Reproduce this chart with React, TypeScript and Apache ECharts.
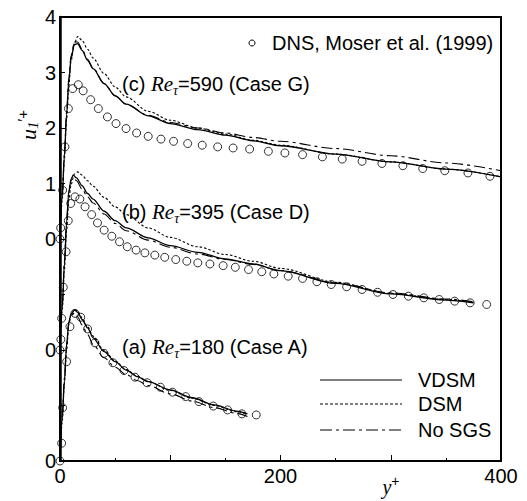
import React, { useEffect, useRef } from 'react';
import * as echarts from 'echarts';

// ---------- data (y+, u1'+) ----------
// Case A, Re_tau = 180 (plotted with offset -4)
const dnsA: number[][] = [[0,0],[1.5,0.32],[2.4,0.96],[6,1.79],[9,2.42],[13.6,2.66],[18.8,2.59],[25,2.38],[31.7,2.13],[40,1.94],[48,1.77],[58,1.63],[68,1.51],[79,1.41],[91,1.33],[102,1.24],[114,1.16],[126,1.07],[139,0.99],[152,0.92],[165,0.85],[178,0.83]];
const vdsmA: number[][] = [[0,0],[2,0.75],[4,1.45],[6,2.1],[8,2.5],[10,2.65],[13,2.72],[16,2.68],[20,2.55],[25,2.4],[30,2.22],[40,1.97],[50,1.79],[60,1.64],[70,1.52],[80,1.43],[100,1.28],[120,1.14],[140,1.01],[160,0.9],[170,0.85]];
const dsmA: number[][] = [[0,0],[2,0.7],[4,1.4],[6,2.0],[8,2.45],[10,2.63],[13,2.72],[16,2.7],[20,2.58],[25,2.42],[30,2.25],[40,1.99],[50,1.8],[60,1.65],[70,1.53],[80,1.43],[100,1.27],[120,1.13],[140,1.0],[160,0.89],[170,0.84]];
const nosgsA: number[][] = [[0,0],[2,0.8],[4,1.5],[6,2.1],[8,2.5],[10,2.62],[13,2.66],[16,2.6],[20,2.45],[25,2.28],[30,2.1],[40,1.86],[50,1.69],[60,1.56],[70,1.45],[80,1.36],[100,1.21],[120,1.08],[140,0.96],[160,0.86],[170,0.8]];

// Case D, Re_tau = 395 (plotted with offset -2)
const dnsB: number[][] = [[0,0],[0.8,0.19],[1.5,0.57],[3,1.13],[5.5,1.77],[7.5,2.33],[9.7,2.64],[13.6,2.76],[18,2.72],[22.7,2.58],[28.7,2.44],[34,2.29],[40,2.16],[47,2.05],[54,1.95],[61,1.86],[69,1.8],[77,1.75],[86,1.71],[95,1.67],[105,1.63],[115,1.6],[125,1.57],[136,1.55],[148,1.52],[159,1.49],[171,1.45],[183,1.41],[194,1.37],[207,1.33],[220,1.29],[233,1.23],[246,1.18],[260,1.14],[274,1.09],[288,1.04],[302,1.0],[316,0.97],[330,0.94],[344,0.91],[358,0.88],[372,0.85],[387,0.82]];
const vdsmB: number[][] = [[0,0],[2,0.75],[4,1.55],[6,2.3],[8,2.85],[10,3.08],[12,3.15],[15,3.1],[20,2.96],[25,2.82],[30,2.72],[40,2.5],[50,2.33],[60,2.2],[80,2.02],[100,1.88],[125,1.76],[150,1.64],[175,1.55],[200,1.43],[250,1.2],[300,1.01],[350,0.9],[375,0.85]];
const dsmB: number[][] = [[0,0],[2,0.7],[4,1.45],[6,2.15],[8,2.7],[10,2.98],[13,3.17],[16,3.21],[20,3.15],[25,3.05],[30,2.95],[40,2.75],[50,2.58],[60,2.44],[80,2.2],[100,2.03],[125,1.86],[150,1.72],[175,1.6],[200,1.47],[250,1.22],[300,1.02],[350,0.91],[375,0.86]];
const nosgsB: number[][] = [[0,0],[2,0.8],[4,1.6],[6,2.35],[8,2.85],[10,3.05],[12,3.1],[15,3.05],[20,2.9],[25,2.76],[30,2.65],[40,2.45],[50,2.28],[60,2.15],[80,1.98],[100,1.85],[125,1.73],[150,1.63],[175,1.54],[200,1.43],[250,1.21],[300,1.03],[350,0.92],[375,0.87]];

// Case G, Re_tau = 590 (plotted with offset 0)
const dnsC: number[][] = [[0,0],[0.6,0.2],[2.4,0.88],[4.5,1.66],[7.6,2.35],[11.5,2.71],[16.6,2.78],[21,2.67],[27.8,2.51],[34.8,2.35],[43,2.2],[50.8,2.08],[59.9,1.99],[69.5,1.91],[80,1.85],[91.6,1.8],[103,1.76],[115.8,1.72],[129,1.69],[143,1.66],[157,1.64],[172,1.62],[189,1.58],[204,1.55],[220,1.52],[238,1.48],[256,1.44],[274,1.4],[292,1.36],[311,1.32],[329,1.27],[349,1.23],[370,1.19],[390,1.13]];
const vdsmC: number[][] = [[0,0],[2,0.75],[4,1.5],[6,2.25],[8,2.85],[10,3.25],[13,3.5],[16,3.52],[20,3.4],[25,3.22],[30,3.07],[40,2.8],[50,2.58],[60,2.43],[80,2.22],[100,2.08],[125,1.97],[150,1.87],[175,1.77],[200,1.68],[250,1.53],[300,1.39],[350,1.26],[400,1.12]];
const dsmC: number[][] = [[0,0],[2,0.7],[4,1.45],[6,2.15],[8,2.75],[10,3.2],[13,3.52],[16,3.65],[20,3.58],[25,3.42],[30,3.26],[40,2.98],[50,2.74],[60,2.56],[80,2.3],[100,2.14],[125,2.0],[150,1.89],[175,1.78],[200,1.69],[250,1.53],[300,1.39],[350,1.26],[400,1.12]];
const nosgsC: number[][] = [[0,0],[2,0.8],[4,1.55],[6,2.3],[8,2.9],[10,3.3],[13,3.55],[16,3.55],[20,3.42],[25,3.24],[30,3.08],[40,2.8],[50,2.58],[60,2.43],[80,2.23],[100,2.1],[125,2.0],[150,1.91],[175,1.83],[200,1.76],[250,1.63],[300,1.5],[350,1.37],[400,1.23]];

const offsets = { A: -4, B: -2, C: 0 };
const xTickLabels = [0, 200, 400];
const yZeroLabels = [-4, -2];

const SANS = '"Liberation Sans", Arial, Helvetica, sans-serif';
const SERIF = '"Liberation Serif", "Times New Roman", serif';

const shift = (d: number[][], off: number) => d.map(([x, y]) => [x, y + off]);

const DOT = [2.5, 2];
const DASHDOT = [11, 4, 3, 4];

function lineSeries(data: number[][], off: number, type: any, width: number) {
  return {
    type: 'line',
    data: shift(data, off),
    symbol: 'none',
    showSymbol: false,
    smooth: 0.3,
    smoothMonotone: 'x',
    lineStyle: { color: '#000', width, type },
    z: 2,
    silent: true,
  };
}
function dnsSeries(data: number[][], off: number) {
  return {
    type: 'scatter',
    data: shift(data, off),
    symbol: 'circle',
    symbolSize: 8,
    itemStyle: { color: 'rgba(0,0,0,0)', borderColor: '#000', borderWidth: 1 },
    z: 3,
    silent: true,
  };
}

const labelRich = {
  n: { fontFamily: SANS, fontSize: 20, fill: '#000' },
  it: { fontFamily: SERIF, fontStyle: 'italic', fontSize: 21, fill: '#000' },
  sub: { fontFamily: SERIF, fontStyle: 'italic', fontSize: 14, fill: '#000', padding: [12, 0, 0, 0] },
};
const caseLabel = (tag: string, re: number, name: string, y: number) => ({
  type: 'text',
  x: 122,
  y,
  style: {
    text: `{n|${tag} }{it|Re}{sub|τ}{n|=${re} (${name})}`,
    rich: labelRich,
    verticalAlign: 'middle',
    align: 'left',
    fill: '#000',
  },
});

const legendEntry = (label: string, y: number, dash: any) => [
  {
    type: 'line',
    shape: { x1: 320, y1: y, x2: 402, y2: y },
    style: { stroke: '#000', lineWidth: 1, lineDash: dash },
  },
  {
    type: 'text',
    x: 418,
    y,
    style: { text: label, fontFamily: SANS, fontSize: 20, fill: '#000', verticalAlign: 'middle' },
  },
];

export default function App() {
  const ref = useRef<HTMLDivElement>(null);
  useEffect(() => {
    const chart = echarts.init(ref.current!, null, { renderer: 'svg' });
    const option: any = {
      animation: false,
      backgroundColor: '#fff',
      grid: { left: 60, top: 17, width: 441, height: 444, show: true, borderColor: '#000', borderWidth: 2, backgroundColor: 'transparent' },
      xAxis: {
        type: 'value',
        min: 0,
        max: 400,
        interval: 100,
        axisLine: { show: true, onZero: false, lineStyle: { color: '#000', width: 2 } },
        axisTick: { show: true, inside: true, length: 6, lineStyle: { color: '#000', width: 1 } },
        minorTick: { show: true, splitNumber: 2, length: 3, lineStyle: { color: '#000', width: 1 } },
        splitLine: { show: false },
        axisLabel: {
          color: '#000',
          fontSize: 20,
          fontFamily: SANS,
          margin: 5,
          formatter: (v: number) => (xTickLabels.includes(v) ? String(v) : ''),
        },
      },
      yAxis: {
        type: 'value',
        min: -4,
        max: 4,
        interval: 1,
        axisLine: { show: true, onZero: false, lineStyle: { color: '#000', width: 2.5 } },
        axisTick: { show: true, inside: true, length: 5, lineStyle: { color: '#000', width: 1 } },
        splitLine: { show: false },
        axisLabel: {
          color: '#000',
          fontSize: 20,
          fontFamily: SANS,
          margin: 4,
          formatter: (v: number) => (v >= 0 ? String(v) : yZeroLabels.includes(v) ? '0' : ''),
        },
      },
      series: [
        lineSeries(vdsmA, offsets.A, 'solid', 1.3),
        lineSeries(dsmA, offsets.A, DOT, 1.1),
        lineSeries(nosgsA, offsets.A, DASHDOT, 1.1),
        dnsSeries(dnsA, offsets.A),
        lineSeries(vdsmB, offsets.B, 'solid', 1.3),
        lineSeries(dsmB, offsets.B, DOT, 1.1),
        lineSeries(nosgsB, offsets.B, DASHDOT, 1.1),
        dnsSeries(dnsB, offsets.B),
        lineSeries(vdsmC, offsets.C, 'solid', 1.3),
        lineSeries(dsmC, offsets.C, DOT, 1.1),
        lineSeries(nosgsC, offsets.C, DASHDOT, 1.1),
        dnsSeries(dnsC, offsets.C),
      ],
      graphic: [
        {
          type: 'circle',
          shape: { cx: 252, cy: 43, r: 3 },
          style: { fill: 'none', stroke: '#000', lineWidth: 1 },
        },
        {
          type: 'text',
          x: 272,
          y: 43,
          style: { text: 'DNS, Moser et al. (1999)', fontFamily: SANS, fontSize: 20, fill: '#000', verticalAlign: 'middle' },
        },
        caseLabel('(c)', 590, 'Case G', 84),
        caseLabel('(b)', 395, 'Case D', 212),
        caseLabel('(a)', 180, 'Case A', 347),
        ...legendEntry('VDSM', 380, null),
        ...legendEntry('DSM', 404, [3, 2]),
        ...legendEntry('No SGS', 430, [12, 4, 3, 4]),
        {
          type: 'text',
          x: 28,
          y: 125,
          rotation: Math.PI / 2,
          style: {
            text: '{u|u}{s|1}{p|′+}',
            align: 'center',
            verticalAlign: 'middle',
            fill: '#000',
            rich: {
              u: { fontFamily: SERIF, fontStyle: 'italic', fontSize: 22, fill: '#000' },
              s: { fontFamily: SERIF, fontStyle: 'italic', fontSize: 15, fill: '#000', padding: [10, 0, 0, 0] },
              p: { fontFamily: SANS, fontSize: 15, fill: '#000', padding: [0, 0, 12, 0] },
            },
          },
        },
        {
          type: 'text',
          x: 391,
          y: 487,
          style: {
            text: '{y|y}{p|+}',
            align: 'center',
            verticalAlign: 'middle',
            fill: '#000',
            rich: {
              y: { fontFamily: SERIF, fontStyle: 'italic', fontSize: 20, fill: '#000' },
              p: { fontFamily: SANS, fontSize: 14, fill: '#000', padding: [0, 0, 12, 0] },
            },
          },
        },
      ],
    };
    chart.setOption(option);
    return () => chart.dispose();
  }, []);
  return (
    <div
      ref={ref}
      style={{ position: 'fixed', left: 0, top: 0, width: 527, height: 501, background: '#fff' }}
    />
  );
}
